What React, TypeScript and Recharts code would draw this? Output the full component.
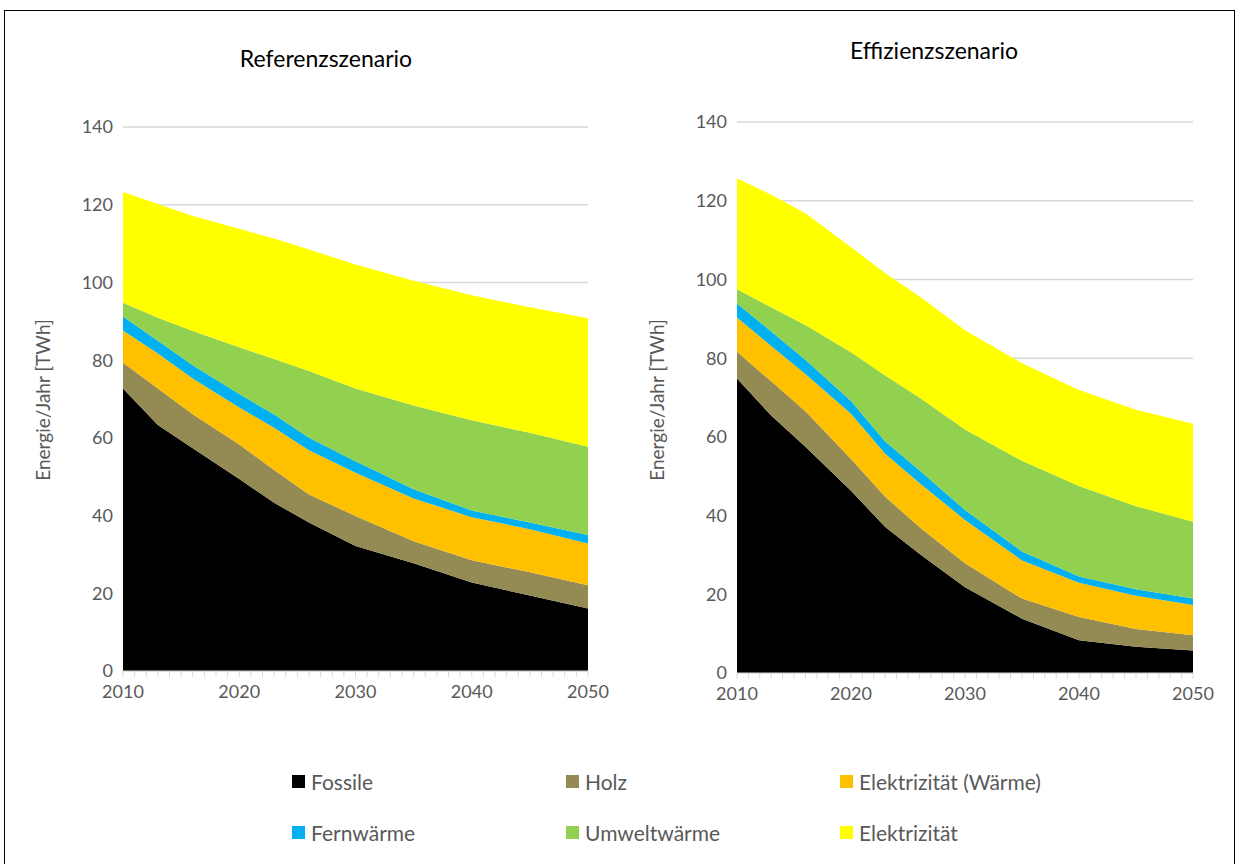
import React from 'react'
import { AreaChart, Area, XAxis, YAxis, CartesianGrid } from 'recharts'

const years = [2010, 2013, 2016, 2020, 2023, 2026, 2030, 2035, 2040, 2045, 2050]

const seriesNames = ['Fossile', 'Holz', 'Elektrizität (Wärme)', 'Fernwärme', 'Umweltwärme', 'Elektrizität']
const seriesColors = ['#000000', '#948A54', '#FFC000', '#00B0F0', '#92D050', '#FFFF00']

// Referenzszenario [TWh]
const refFossile = [72.7, 63.3, 57.3, 49.4, 43.3, 38.2, 32.2, 27.7, 22.8, 19.4, 16.1]
const refHolz = [6.6, 9.4, 8.8, 8.9, 8.4, 7.2, 7.7, 5.7, 5.7, 6.0, 6.0]
const refElektWaerme = [8.3, 9.0, 9.2, 9.5, 10.9, 11.4, 11.1, 11.0, 11.1, 11.1, 10.7]
const refFernwaerme = [3.6, 3.3, 3.4, 3.5, 3.4, 3.2, 3.0, 2.4, 1.7, 1.7, 2.2]
const refUmwelt = [3.6, 5.9, 8.8, 12.0, 14.3, 17.2, 18.7, 21.5, 23.2, 23.1, 22.7]
const refElekt = [28.5, 29.3, 29.6, 30.5, 31.0, 31.3, 31.9, 32.1, 32.2, 32.3, 33.1]

// Effizienzszenario [TWh]
const effFossile = [74.8, 65.4, 57.5, 46.3, 37.1, 30.3, 21.8, 13.8, 8.3, 6.7, 5.7]
const effHolz = [6.8, 8.7, 9.0, 8.1, 7.7, 6.8, 6.1, 5.1, 5.9, 4.5, 3.9]
const effElektWaerme = [8.7, 9.0, 9.5, 11.5, 10.9, 11.2, 11.0, 9.7, 8.7, 8.4, 7.7]
const effFernwaerme = [3.6, 3.7, 3.6, 3.2, 3.1, 3.2, 2.5, 2.3, 1.6, 1.7, 1.6]
const effUmwelt = [3.6, 6.1, 8.8, 12.4, 16.8, 18.5, 20.5, 23.0, 23.0, 21.1, 19.5]
const effElekt = [28.2, 28.6, 28.4, 26.7, 26.0, 25.7, 25.2, 24.8, 24.4, 24.5, 24.9]

const yTicks = [0, 20, 40, 60, 80, 100, 120, 140]
const xLabelYears = [2010, 2020, 2030, 2040, 2050]
const xTickYears = Array.from({ length: 41 }, (_, i) => 2010 + i)

const buildRows = (cols: number[][]) =>
  years.map((year, i) => {
    const row: any = { year }
    seriesNames.forEach((name, s) => {
      row[name] = cols[s][i]
    })
    return row
  })

const refData = buildRows([refFossile, refHolz, refElektWaerme, refFernwaerme, refUmwelt, refElekt])
const effData = buildRows([effFossile, effHolz, effElektWaerme, effFernwaerme, effUmwelt, effElekt])

const FONT = 'Lato, "Open Sans", sans-serif'
const TEXT = '#595959'
const GRID = '#d9d9d9'

interface ScenarioChartProps {
  data: any[]
  width: number
  height: number
  margin: { top: number; right: number; bottom: number; left: number }
}

function ScenarioChart({ data, width, height, margin }: ScenarioChartProps) {
  return (
    <AreaChart width={width} height={height} data={data} margin={margin}>
      <CartesianGrid vertical={false} stroke={GRID} strokeWidth={1.5} />
      <XAxis
        dataKey="year"
        type="number"
        domain={[2010, 2050]}
        ticks={xTickYears}
        interval={0}
        tickFormatter={(v: number) => (xLabelYears.includes(v) ? String(v) : '')}
        tick={{ fill: TEXT, fontSize: 18, fontFamily: FONT }}
        tickSize={6}
        tickMargin={8}
        stroke={GRID}
        height={36}
      />
      <YAxis
        type="number"
        domain={[0, 140]}
        ticks={yTicks}
        interval={0}
        axisLine={false}
        tickLine={false}
        tickMargin={4}
        tick={{ fill: TEXT, fontSize: 18, fontFamily: FONT }}
        width={40}
      />
      {seriesNames.map((name, i) => (
        <Area
          key={name}
          type="linear"
          dataKey={name}
          stackId="a"
          stroke="none"
          fill={seriesColors[i]}
          fillOpacity={1}
          isAnimationActive={false}
        />
      ))}
    </AreaChart>
  )
}

const legendCols = [292, 566, 840]
const legendRows = [781, 832]

export default function App() {
  return (
    <div
      style={{
        position: 'fixed',
        left: 0,
        top: 0,
        width: 1237,
        height: 864,
        background: '#fff',
        overflow: 'hidden',
        fontFamily: FONT,
      }}
    >
      <div
        style={{
          position: 'absolute',
          left: 4,
          top: 10,
          width: 1229,
          height: 900,
          border: '1.5px solid #000',
        }}
      />

      <div style={{ position: 'absolute', left: 0, top: 0 }}>
        <ScenarioChart data={refData} width={620} height={720} margin={{ top: 127, right: 32, bottom: 13, left: 83 }} />
      </div>
      <div style={{ position: 'absolute', left: 620, top: 0 }}>
        <ScenarioChart data={effData} width={617} height={720} margin={{ top: 122, right: 44, bottom: 11, left: 77 }} />
      </div>

      <div
        style={{
          position: 'absolute',
          left: 176,
          top: 44,
          width: 300,
          textAlign: 'center',
          fontSize: 23,
          fontWeight: 400,
          lineHeight: '28px',
          color: '#000',
        }}
      >
        Referenzszenario
      </div>
      <div
        style={{
          position: 'absolute',
          left: 784,
          top: 36,
          width: 300,
          textAlign: 'center',
          fontSize: 23,
          fontWeight: 400,
          lineHeight: '28px',
          color: '#000',
        }}
      >
        Effizienzszenario
      </div>

      {[43, 657].map((cx) => (
        <div
          key={cx}
          style={{
            position: 'absolute',
            left: cx - 100,
            top: 400 - 12,
            width: 200,
            height: 24,
            lineHeight: '24px',
            textAlign: 'center',
            fontSize: 19,
            color: TEXT,
            transform: 'rotate(-90deg)',
          }}
        >
          Energie/Jahr [TWh]
        </div>
      ))}

      {seriesNames.map((name, i) => {
        const col = i % 3
        const row = Math.floor(i / 3)
        return (
          <div
            key={name}
            style={{
              position: 'absolute',
              left: legendCols[col],
              top: legendRows[row] - 13,
              height: 26,
              display: 'flex',
              alignItems: 'center',
              fontSize: 21,
              color: TEXT,
              whiteSpace: 'nowrap',
            }}
          >
            <span style={{ width: 13, height: 13, background: seriesColors[i], marginRight: 6, display: 'inline-block' }} />
            {name}
          </div>
        )
      })}
    </div>
  )
}
